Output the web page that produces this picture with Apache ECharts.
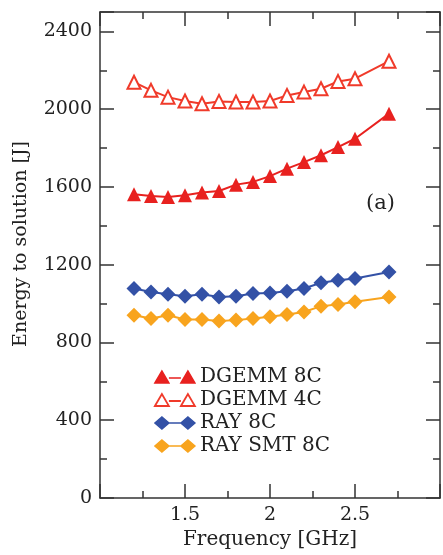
<!DOCTYPE html>
<html>
<head>
<meta charset="utf-8">
<script src="https://cdn.jsdelivr.net/npm/echarts@6/dist/echarts.min.js"></script>
<style>html,body{margin:0;padding:0;background:#fff;}#c{width:443px;height:555px;}</style>
</head>
<body>
<div id="c"></div>
<script>
var freqs = [1.2, 1.3, 1.4, 1.5, 1.6, 1.7, 1.8, 1.9, 2.0, 2.1, 2.2, 2.3, 2.4, 2.5, 2.7];
var dgemm8c = [1562, 1554, 1548, 1557, 1571, 1579, 1612, 1626, 1656, 1694, 1728, 1763, 1805, 1848, 1977];
var dgemm4c = [2139, 2097, 2062, 2042, 2028, 2040, 2037, 2037, 2042, 2071, 2088, 2105, 2143, 2157, 2247];
var ray8c = [1078, 1060, 1048, 1038, 1048, 1034, 1038, 1052, 1055, 1064, 1078, 1107, 1120, 1129, 1163];
var raySmt8c = [940, 923, 940, 918, 918, 911, 915, 923, 932, 944, 957, 987, 995, 1009, 1034];
var seriesNames = ['DGEMM 8C', 'DGEMM 4C', 'RAY 8C', 'RAY SMT 8C'];
var xTickLabels = {'1.5': '1.5', '2': '2', '2.5': '2.5'};
var yTickLabels = ['0', '400', '800', '1200', '1600', '2000', '2400'];

var RED = '#e8211f', RED2 = '#f03a2a', BLUE = '#3351a6', ORANGE = '#f8a41e';
var FONT = 'DejaVu Serif';
function pairs(ys) { return freqs.map(function (x, i) { return [x, ys[i]]; }); }

var triFilled = 'path://M0,12 L7,0 L14,12 Z M14,7 L26,7 M26,12 L33,0 L40,12 Z';
var diamonds = 'path://M0,6 L7,0 L14,6 L7,12 Z M14,6 L26,6 M26,6 L33,0 L40,6 L33,12 Z';

function axisLine() { return {show: true, onZero: false, lineStyle: {color: '#333', width: 1.5}}; }
function tick() { return {show: true, inside: true, length: 14, lineStyle: {color: '#333', width: 1.5}}; }
function minor() { return {show: true, splitNumber: 2, length: 7, lineStyle: {color: '#333', width: 1.5}}; }

var chart = echarts.init(document.getElementById('c'));
chart.setOption({
  animation: false,
  backgroundColor: '#fff',
  grid: {left: 100, top: 12, right: -4, bottom: 57, containLabel: false},
  xAxis: [{
    type: 'value', min: 1, max: 3, interval: 0.5, position: 'bottom',
    name: 'Frequency [GHz]', nameLocation: 'middle', nameGap: 32,
    nameTextStyle: {fontFamily: FONT, fontSize: 20, color: '#222'},
    axisLine: axisLine(), axisTick: tick(), minorTick: minor(), splitLine: {show: false},
    axisLabel: {fontFamily: FONT, fontSize: 19, color: '#222', margin: 8,
      formatter: function (v) { return xTickLabels[String(v)] || ''; }}
  }, {
    type: 'value', min: 1, max: 3, interval: 0.5, position: 'top',
    axisLine: axisLine(), axisTick: tick(), minorTick: minor(), splitLine: {show: false},
    axisLabel: {show: false}
  }],
  yAxis: [{
    type: 'value', min: 0, max: 2500, interval: 400, position: 'left',
    name: 'Energy to solution [J]', nameLocation: 'middle', nameGap: 69,
    nameTextStyle: {fontFamily: FONT, fontSize: 19, color: '#222', padding: [0, 0, 0, 22]},
    axisLine: axisLine(), axisTick: tick(), minorTick: minor(), splitLine: {show: false},
    axisLabel: {fontFamily: FONT, fontSize: 19, color: '#222', margin: 8, showMaxLabel: false,
      formatter: function (v) { return yTickLabels.indexOf(String(v)) >= 0 ? String(v) : ''; }}
  }, {
    type: 'value', min: 0, max: 2500, interval: 400, position: 'right',
    axisLine: axisLine(), axisTick: tick(), minorTick: minor(), splitLine: {show: false},
    axisLabel: {show: false}
  }],
  legend: {
    left: 149, top: 362, orient: 'vertical', itemWidth: 40, itemHeight: 12, itemGap: 3,
    textStyle: {fontFamily: FONT, fontSize: 20, color: '#222', lineHeight: 20},
    data: [
      {name: seriesNames[0], icon: triFilled, itemStyle: {color: RED, borderColor: RED, borderWidth: 1.5}},
      {name: seriesNames[1], icon: triFilled, itemStyle: {color: '#fff', borderColor: RED2, borderWidth: 1.8}},
      {name: seriesNames[2], icon: diamonds, itemStyle: {color: BLUE, borderColor: BLUE, borderWidth: 1.5}},
      {name: seriesNames[3], icon: diamonds, itemStyle: {color: ORANGE, borderColor: ORANGE, borderWidth: 1.5}}
    ]
  },
  graphic: [{type: 'text', left: 366, top: 193, style: {text: '(a)', fontFamily: FONT, fontSize: 21, fill: '#222'}}],
  series: [
    {name: seriesNames[0], type: 'line', data: pairs(dgemm8c), symbol: 'triangle', symbolSize: 14,
      itemStyle: {color: RED}, lineStyle: {color: RED, width: 2}},
    {name: seriesNames[1], type: 'line', data: pairs(dgemm4c), symbol: 'emptyTriangle', symbolSize: 13,
      itemStyle: {color: RED2, borderWidth: 2}, lineStyle: {color: RED2, width: 2}},
    {name: seriesNames[2], type: 'line', data: pairs(ray8c), symbol: 'diamond', symbolSize: 15,
      itemStyle: {color: BLUE}, lineStyle: {color: BLUE, width: 2}},
    {name: seriesNames[3], type: 'line', data: pairs(raySmt8c), symbol: 'diamond', symbolSize: 15,
      itemStyle: {color: ORANGE}, lineStyle: {color: ORANGE, width: 2}}
  ]
});
</script>
</body>
</html>
